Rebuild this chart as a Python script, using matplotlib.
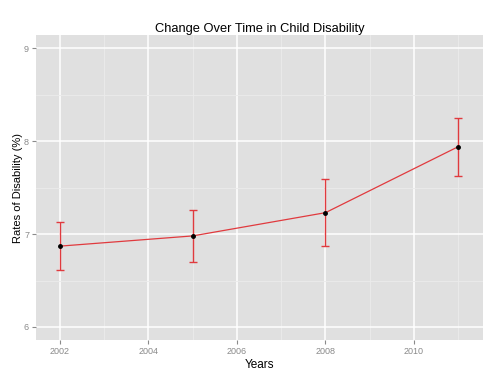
import numpy as np
import matplotlib
matplotlib.use('Agg')
import matplotlib.pyplot as plt
from matplotlib.ticker import MultipleLocator

# values
years = [2002, 2005, 2008, 2011]
rates = [6.87, 6.98, 7.23, 7.94]
lower = [6.61, 6.70, 6.87, 7.62]
upper = [7.13, 7.26, 7.59, 8.25]

plt.rcParams['font.family'] = ['Liberation Sans', 'DejaVu Sans']

fig = plt.figure(figsize=(5, 3.78), dpi=100)
ax = fig.add_axes([0.072, 0.1005, 0.894, 0.8065])

ax.set_facecolor('#e0e0e0')
for s in ax.spines.values():
    s.set_visible(False)

ax.xaxis.set_major_locator(MultipleLocator(2))
ax.xaxis.set_minor_locator(MultipleLocator(1))
ax.yaxis.set_major_locator(MultipleLocator(1))
ax.yaxis.set_minor_locator(MultipleLocator(0.5))
ax.grid(which='major', color='white', linewidth=1.1)
ax.grid(which='minor', color='#ebebeb', linewidth=0.6)
ax.set_axisbelow(True)

yerr = [np.array(rates) - np.array(lower), np.array(upper) - np.array(rates)]
ax.errorbar(years, rates, yerr=yerr, color='#e03a3e', linewidth=0.9,
            elinewidth=1.0, capsize=3, capthick=1.0, zorder=3)
ax.plot(years, rates, 'o', color='black', markersize=2.5, zorder=4)

ax.set_xlim(2001.46, 2011.56)
ax.set_ylim(5.86, 9.14)

ax.tick_params(which='major', length=3, color='#8a8a8a', labelcolor='#8a8a8a',
               labelsize=6.5, pad=2)
ax.tick_params(which='minor', length=0)

ax.set_title('Change Over Time in Child Disability', fontsize=9.3, pad=2)
ax.set_xlabel('Years', fontsize=8.5, labelpad=2)
ax.set_ylabel('Rates of Disability (%)', fontsize=8, labelpad=0.5)

fig.savefig('out.png', dpi=100)
